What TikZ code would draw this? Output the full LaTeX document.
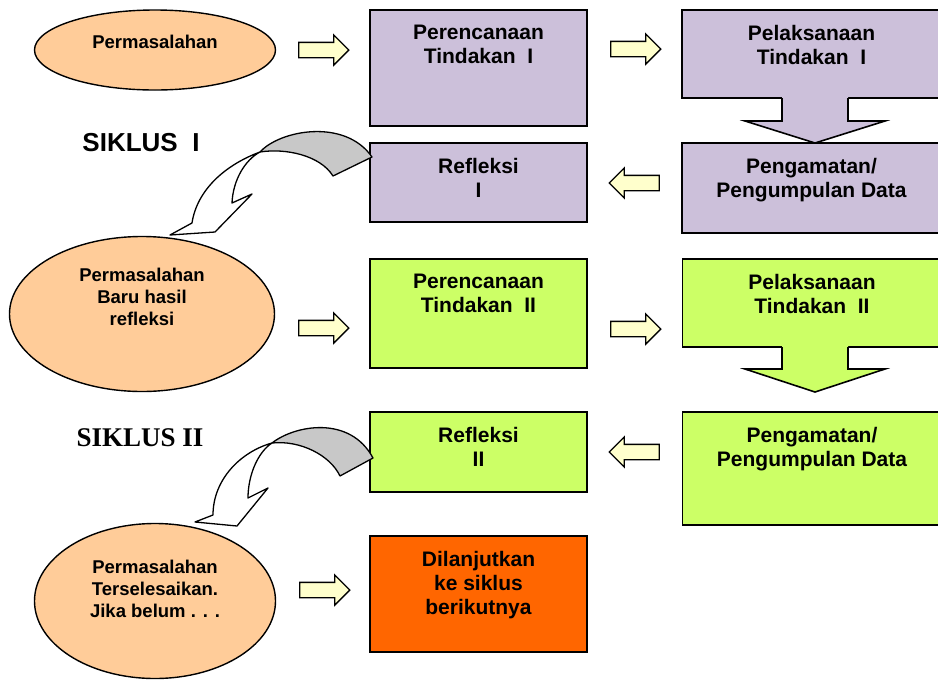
\documentclass[tikz,border=0pt]{standalone}
\usepackage{fontspec}
\setmainfont{Liberation Sans}
\newfontfamily\timesbf{Liberation Serif}
\usetikzlibrary{positioning, shapes.geometric, shapes.arrows}

\definecolor{peach}{HTML}{FFCC99}
\definecolor{lilac}{HTML}{CCC0DA}
\definecolor{lime}{HTML}{CCFF66}
\definecolor{orng}{HTML}{FF6600}
\definecolor{cream}{HTML}{FFFFCC}
\definecolor{ribbon}{HTML}{C8C8C8}

\begin{document}
\begin{tikzpicture}[
    x=1pt, y=-1pt,
    every node/.style={font=\bfseries},
    problem/.style={
        ellipse,
        draw,
        line width=1.4pt,
        fill=peach,
        inner sep=0pt,
    },
    probtext/.style={
        align=center,
        inner sep=0pt,
        font=\fontsize{18.5}{22}\selectfont\bfseries,
    },
    stepbox/.style={
        rectangle,
        draw,
        line width=1.6pt,
        fill=#1,
        inner sep=0pt,
    },
    steptext/.style={
        align=center,
        inner sep=0pt,
        font=\fontsize{21}{24}\selectfont\bfseries,
    },
    blockr/.style={
        single arrow,
        draw,
        line width=1.3pt,
        fill=cream,
        minimum height=50pt,
        minimum width=29pt,
        single arrow head extend=7.5pt,
        inner xsep=0pt,
        inner ysep=7pt,
    },
    blockl/.style={blockr, shape border rotate=180},
    curl/.style={draw, line width=1.3pt, line join=round},
]
\useasboundingbox (0,0) rectangle (938,681);

% Cycle I
\node[problem, minimum width=241pt, minimum height=80pt] (perm1) at (155,50) {};
\node[stepbox=lilac, minimum width=217pt, minimum height=116pt] (ren1) at (478.5,68) {};
\node[stepbox=lilac, minimum width=259pt, minimum height=88pt] (lak1) at (811.5,54) {};
\node[stepbox=lilac, minimum width=259pt, minimum height=90pt] (amat1) at (811.5,188) {};
\node[stepbox=lilac, minimum width=217pt, minimum height=79pt] (ref1) at (478.5,182.5) {};

% down arrow under Pelaksanaan I
\fill[lilac] (782,96) -- (782,121) -- (745,121) -- (815,143) -- (885,121) -- (848,121) -- (848,96) -- cycle;
\draw[line width=1.6pt] (782,98) -- (782,121) -- (745,121) -- (815,143) -- (885,121) -- (848,121) -- (848,98);

\node[blockr] (a1) at (320,50) {};
\node[blockr] (a2) at (632,49) {};
\node[blockl] (a3) at (638,183) {};

\node[probtext] (perm1t) at ([yshift=8pt]perm1.center) {Permasalahan};
\node[steptext, below=16pt of ren1.north] (ren1t) {Perencanaan\\Tindakan\ \ I};
\node[steptext, below=16pt of lak1.north] (lak1t) {Pelaksanaan\\Tindakan\ \ I};
\node[steptext, below=16pt of amat1.north] (amat1t) {Pengamatan/\\Pengumpulan Data};
\node[steptext, below=16pt of ref1.north] (ref1t) {Refleksi\\I};
\node[font=\fontsize{26}{30}\selectfont\bfseries] (siklus1) at (141,143) {SIKLUS\ \ I};

% curved arrow Refleksi I -> new problem
\draw[curl, fill=ribbon] (260,152) .. controls (280,130) and (345,118) .. (372,157)
    -- (333,176) .. controls (320,155) and (285,148) .. (260,152) -- cycle;
\draw[curl, fill=white] (260,152) .. controls (225,165) and (197,190) .. (192,223)
    -- (170,235) -- (215,232) -- (252,194) -- (232,203)
    .. controls (233,180) and (245,160) .. (260,152) -- cycle;

% Cycle II
\node[problem, minimum width=265pt, minimum height=155pt] (perm2) at (142,314) {};
\node[stepbox=lime, minimum width=217pt, minimum height=109pt] (ren2) at (478.5,313.5) {};
\node[stepbox=lime, minimum width=259pt, minimum height=88pt] (lak2) at (812,303) {};
\node[stepbox=lime, minimum width=259pt, minimum height=113pt] (amat2) at (812,468.5) {};
\node[stepbox=lime, minimum width=217pt, minimum height=80pt] (ref2) at (478.5,452) {};

% down arrow under Pelaksanaan II
\fill[lime] (782,345) -- (782,369) -- (745,369) -- (815,392) -- (885,369) -- (848,369) -- (848,345) -- cycle;
\draw[line width=1.6pt] (782,347) -- (782,369) -- (745,369) -- (815,392) -- (885,369) -- (848,369) -- (848,347);

\node[blockr] (a4) at (320,328) {};
\node[blockr] (a5) at (632,329) {};
\node[blockl] (a6) at (638,452) {};

\node[probtext] (perm2t) at ([yshift=17pt]perm2.center) {Permasalahan\\Baru hasil\\refleksi};
\node[steptext, below=16pt of ren2.north] (ren2t) {Perencanaan\\Tindakan\ \ II};
\node[steptext, below=16pt of lak2.north] (lak2t) {Pelaksanaan\\Tindakan\ \ II};
\node[steptext, below=16pt of amat2.north] (amat2t) {Pengamatan/\\Pengumpulan Data};
\node[steptext, below=16pt of ref2.north] (ref2t) {Refleksi\\II};
\node[font=\fontsize{27}{30}\selectfont\timesbf\bfseries] (siklus2) at (140,438) {SIKLUS II};

% curved arrow Refleksi II -> final problem
\draw[curl, fill=ribbon] (272,443) .. controls (295,425) and (350,415) .. (373,458)
    -- (340,476) .. controls (330,455) and (300,440) .. (272,443) -- cycle;
\draw[curl, fill=white] (272,443) .. controls (240,452) and (213,480) .. (213,515)
    -- (195,522) -- (237,526) -- (268,488) -- (248,498)
    .. controls (248,475) and (258,452) .. (272,443) -- cycle;

% end
\node[problem, minimum width=241pt, minimum height=155pt] (perm3) at (155,601) {};
\node[stepbox=orng, minimum width=217pt, minimum height=116pt] (lanjut) at (478.5,594) {};
\node[blockr] (a7) at (321,590) {};
\node[probtext] (perm3t) at ([yshift=12pt]perm3.center) {Permasalahan\\Terselesaikan.\\Jika belum . . .};
\node[steptext, below=16pt of lanjut.north] (lanjutt) {Dilanjutkan\\ke siklus\\berikutnya};

\end{tikzpicture}
\end{document}
